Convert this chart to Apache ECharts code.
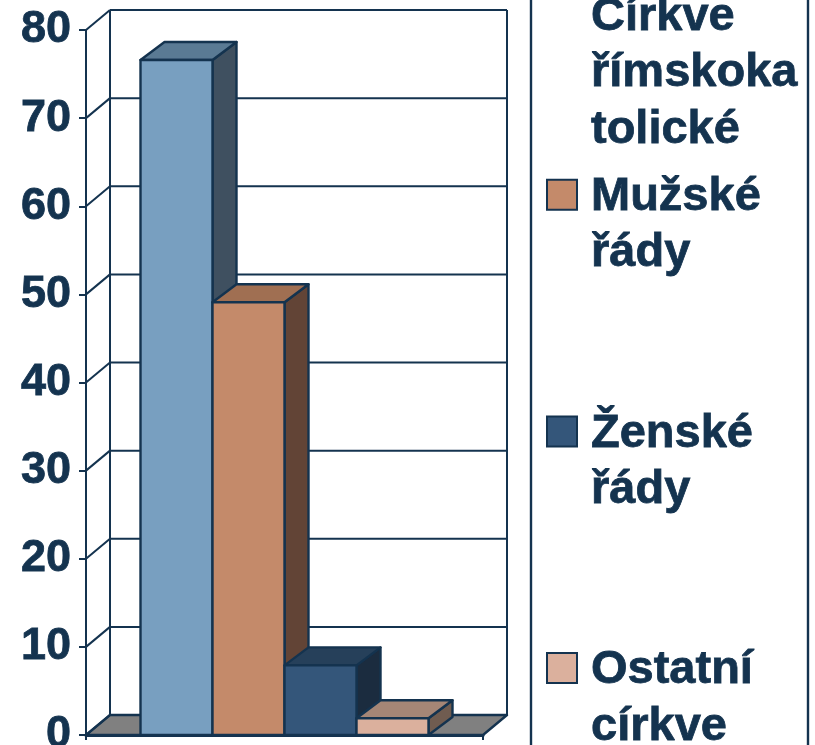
<!DOCTYPE html>
<html>
<head>
<meta charset="utf-8">
<style>
  html, body { margin: 0; padding: 0; background: #fff; overflow: hidden; }
  #chart { width: 815px; height: 745px; }
</style>
<script src="https://cdn.jsdelivr.net/npm/echarts@6/dist/echarts.min.js"></script>
</head>
<body>
<div id="chart"></div>
<script>
var categories = ['']
var yTicks = [0, 10, 20, 30, 40, 50, 60, 70, 80]
// the first legend item starts above the visible area, hence the empty line
var seriesNames = ['\nCírkve\nřímskoka\ntolické', 'Mužské\nřády', 'Ženské\nřády', 'Ostatní\ncírkve']
var seriesValues = [76.6, 49.1, 7.9, 1.9]
var frontColors = ['#789fc0', '#c48a6a', '#34567a', '#dbb09d']
var topColors = ['#5a7a94', '#a06f52', '#26405a', '#a58676']
var sideColors = ['#3f5060', '#624436', '#1b2c3f', '#705c50']

var ink = '#14334f'
var fontName = '"Liberation Sans", Arial, sans-serif'
var wallDx = 24
var wallDy = 20
var barDx = 24
var barDy = 18
var barShare = 72 / 397

function poly (points, fill) {
  return {
    type: 'polygon',
    shape: { points: points },
    style: { fill: fill, stroke: ink, lineWidth: 2.4, lineJoin: 'round' }
  }
}

function line (x1, y1, x2, y2) {
  return {
    type: 'line',
    shape: { x1: x1, y1: y1, x2: x2, y2: y2 },
    style: { stroke: ink, lineWidth: 2, fill: null }
  }
}

// floor, back wall and grid lines, one entry per tick
function renderWall (params, api) {
  var v = api.value(0)
  var c = api.coord([0, v])
  var band = api.size([1, 0])[0]
  var left = c[0] - band / 2
  var right = c[0] + band / 2
  var y = c[1]
  var kids = []
  if (v === 0) {
    kids.push(poly([[left, y], [right, y], [right + wallDx, y - wallDy], [left + wallDx, y - wallDy]], '#808080'))
  }
  if (v === yTicks[yTicks.length - 1]) {
    var y0 = api.coord([0, 0])[1]
    kids.push(line(left + wallDx, y - wallDy, left + wallDx, y0 - wallDy))
    kids.push(line(right + wallDx, y - wallDy, right + wallDx, y0 - wallDy))
  }
  kids.push(line(left, y, left + wallDx, y - wallDy))
  kids.push(line(left + wallDx, y - wallDy, right + wallDx, y - wallDy))
  return { type: 'group', children: kids }
}

function renderBar (index) {
  return function (params, api) {
    var top = api.coord([0, api.value(0)])
    var base = api.coord([0, 0])
    var band = api.size([1, 0])[0]
    var w = band * barShare
    var l = top[0] + (index - seriesValues.length / 2) * w
    var r = l + w
    return {
      type: 'group',
      children: [
        poly([[r, base[1]], [r + barDx, base[1] - barDy], [r + barDx, top[1] - barDy], [r, top[1]]], sideColors[index]),
        poly([[l, top[1]], [r, top[1]], [r + barDx, top[1] - barDy], [l + barDx, top[1] - barDy]], topColors[index]),
        poly([[l, base[1]], [r, base[1]], [r, top[1]], [l, top[1]]], frontColors[index])
      ]
    }
  }
}

var series = [{
  type: 'custom',
  name: 'wall',
  silent: true,
  data: yTicks.map(function (t) { return [t] }),
  encode: { y: 0 },
  renderItem: renderWall,
  z: 1
}]

seriesValues.forEach(function (value, i) {
  series.push({
    type: 'custom',
    name: seriesNames[i].trim(),
    data: [[value]],
    encode: { y: 0 },
    renderItem: renderBar(i),
    z: 3 + i
  })
})

var legendItems = []
seriesNames.forEach(function (name, i) {
  var center = -42 + i * 236.7
  legendItems.push({
    type: 'rect',
    shape: { x: 547, y: center - 15, width: 30, height: 30 },
    style: { fill: frontColors[i], stroke: ink, lineWidth: 2 }
  })
  legendItems.push({
    type: 'text',
    style: {
      text: name,
      x: 591,
      y: center - 26,
      fill: ink,
      font: 'bold 47px ' + fontName,
      lineHeight: 56.5,
      verticalAlign: 'top',
      stroke: ink,
      lineWidth: 0.8
    }
  })
})
legendItems.push({ type: 'line', shape: { x1: 531, y1: 0, x2: 531, y2: 745 }, style: { stroke: ink, lineWidth: 2.4 } })
legendItems.push({ type: 'line', shape: { x1: 808, y1: 0, x2: 808, y2: 745 }, style: { stroke: ink, lineWidth: 2.4 } })

var chart = echarts.init(document.getElementById('chart'), null, { renderer: 'canvas' })
chart.setOption({
  animation: false,
  backgroundColor: '#ffffff',
  grid: { left: 86, right: 332, top: 30, bottom: 10, outerBoundsMode: 'none' },
  xAxis: {
    type: 'category',
    data: categories,
    axisLine: { lineStyle: { color: ink, width: 3 } },
    axisTick: { show: true, length: 5, lineStyle: { color: ink, width: 2 } },
    axisLabel: { show: false }
  },
  yAxis: {
    type: 'value',
    min: 0,
    max: 80,
    interval: 10,
    axisLine: { show: true, lineStyle: { color: ink, width: 2 } },
    axisTick: { show: true, length: 7, lineStyle: { color: ink, width: 2 } },
    splitLine: { show: false },
    axisLabel: {
      margin: 15,
      padding: [5, 0, 0, 0],
      color: ink,
      fontFamily: fontName,
      fontWeight: 'bold',
      fontSize: 45,
      textBorderColor: ink,
      textBorderWidth: 0.8
    }
  },
  series: series,
  graphic: legendItems
})
</script>
</body>
</html>
